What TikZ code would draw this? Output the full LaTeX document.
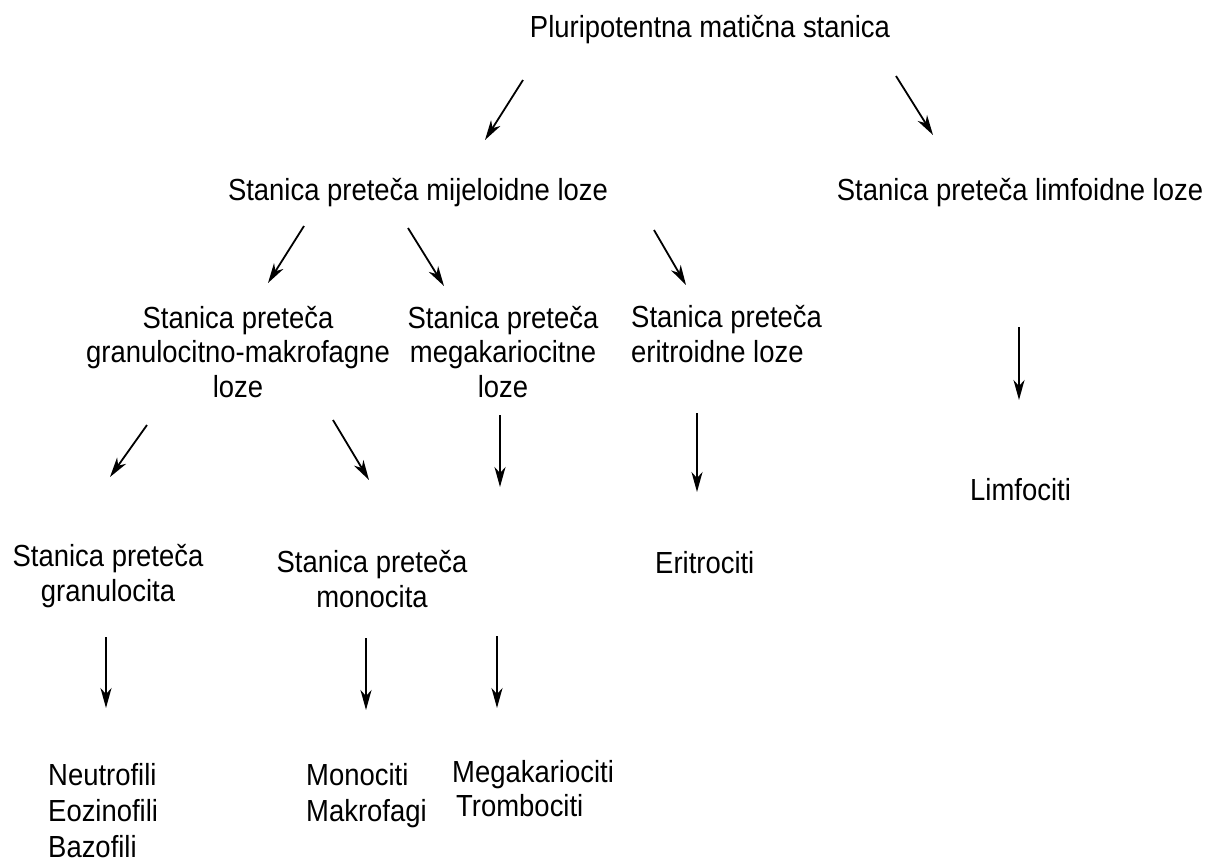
\documentclass[tikz,border=0pt]{standalone}
\usepackage{fontspec}
\setmainfont{Liberation Sans}[FakeStretch=0.9]
\usetikzlibrary{arrows.meta}
\begin{document}
\begin{tikzpicture}[x=1pt,y=-1pt,
  lbl/.style={inner sep=0pt,font=\fontsize{30.5}{34.5}\selectfont},
  arr/.style={line width=1.8pt,-{Stealth[length=20pt,width=11pt,inset=6pt]}}]
\useasboundingbox (0,0) rectangle (1210,863);
% nodes (anchor base = baseline of last line)
\node[lbl,anchor=base] (plur) at (710,37) {Pluripotentna matična stanica};
\node[lbl,anchor=base] (mij) at (418,200) {Stanica preteča mijeloidne loze};
\node[lbl,anchor=base] (limf) at (1020,200) {Stanica preteča limfoidne loze};
\node[lbl,anchor=base,align=center] (gm) at (238,397) {Stanica preteča\\granulocitno-makrofagne\\loze};
\node[lbl,anchor=base,align=center] (mega) at (503,397) {Stanica preteča\\megakariocitne\\loze};
\node[lbl,anchor=base west,align=left] (eri) at (631,362) {Stanica preteča\\eritroidne loze};
\node[lbl,anchor=base west] (limfo) at (970,500) {Limfociti};
\node[lbl,anchor=base,align=center] (gran) at (108,601) {Stanica preteča\\granulocita};
\node[lbl,anchor=base,align=center] (mono) at (372,607) {Stanica preteča\\monocita};
\node[lbl,anchor=base west] (erit) at (655,573) {Eritrociti};
\node[lbl,anchor=base west,align=left,font=\fontsize{30.5}{36}\selectfont] (neu) at (48,857) {Neutrofili\\Eozinofili\\Bazofili};
\node[lbl,anchor=base west,align=left,font=\fontsize{30.5}{36}\selectfont] (monoc) at (306,821) {Monociti\\Makrofagi};
\node[lbl,anchor=base west,align=left,font=\fontsize{30.5}{34}\selectfont] (megak) at (452,816) {Megakariociti\\\hspace*{4pt}Trombociti};
% arrow end points
\coordinate (a1s) at (523,80);   \coordinate (a1e) at (485,140);
\coordinate (a2s) at (896,76);   \coordinate (a2e) at (933,135);
\coordinate (a3s) at (304,226);  \coordinate (a3e) at (268,283);
\coordinate (a4s) at (408,228);  \coordinate (a4e) at (444,286);
\coordinate (a5s) at (654,230);  \coordinate (a5e) at (686,285);
\coordinate (a6s) at (1019,327); \coordinate (a6e) at (1019,400);
\coordinate (a7s) at (147,425);  \coordinate (a7e) at (110,477);
\coordinate (a8s) at (333,420);  \coordinate (a8e) at (369,480);
\coordinate (a9s) at (500,415);  \coordinate (a9e) at (500,487);
\coordinate (a10s) at (697,413); \coordinate (a10e) at (697,492);
\coordinate (a11s) at (106,637); \coordinate (a11e) at (106,708);
\coordinate (a12s) at (366,638); \coordinate (a12e) at (366,710);
\coordinate (a13s) at (497,636); \coordinate (a13e) at (497,708);
% arrows
\draw[arr] (a1s) -- (a1e);
\draw[arr] (a2s) -- (a2e);
\draw[arr] (a3s) -- (a3e);
\draw[arr] (a4s) -- (a4e);
\draw[arr] (a5s) -- (a5e);
\draw[arr] (a6s) -- (a6e);
\draw[arr] (a7s) -- (a7e);
\draw[arr] (a8s) -- (a8e);
\draw[arr] (a9s) -- (a9e);
\draw[arr] (a10s) -- (a10e);
\draw[arr] (a11s) -- (a11e);
\draw[arr] (a12s) -- (a12e);
\draw[arr] (a13s) -- (a13e);
\end{tikzpicture}
\end{document}
